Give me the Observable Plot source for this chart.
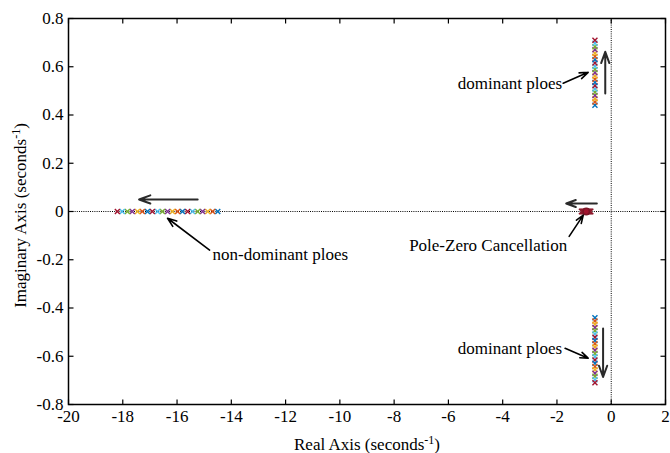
<!DOCTYPE html>
<html>
<head>
<meta charset="utf-8">
<script src="https://cdn.jsdelivr.net/npm/d3@7"></script>
<script src="https://cdn.jsdelivr.net/npm/@observablehq/plot@0.6"></script>
<style>
  body { margin: 0; background: #fff; }
</style>
</head>
<body>
<div id="chart"></div>
<script>
// Axis ticks
const xTicks = [-20, -18, -16, -14, -12, -10, -8, -6, -4, -2, 0, 2];
const yTicks = [-0.8, -0.6, -0.4, -0.2, 0, 0.2, 0.4, 0.6, 0.8];
const yTickLabels = ["-0.8", "-0.6", "-0.4", "-0.2", "0", "0.2", "0.4", "0.6", "0.8"];

// Marker colours, cycled per gain step
const palette = ["#0072BD", "#D95319", "#EDB120", "#7E2F8E", "#77AC30", "#4DBEEE", "#A2142F"];

// Dominant complex pole pair (upper branch; lower branch is its conjugate)
const dominantRe = [-0.60, -0.60, -0.60, -0.60, -0.60, -0.60, -0.60, -0.60, -0.60, -0.60, -0.60,
                    -0.60, -0.60, -0.60, -0.60, -0.60, -0.60, -0.60, -0.60, -0.60, -0.60];
const dominantIm = [0.440, 0.454, 0.467, 0.481, 0.494, 0.508, 0.521, 0.535, 0.548, 0.562, 0.575,
                    0.589, 0.602, 0.616, 0.629, 0.643, 0.656, 0.670, 0.683, 0.697, 0.710];

// Non-dominant real pole
const nonDominantRe = [-14.50, -14.69, -14.87, -15.06, -15.24, -15.43, -15.61, -15.80, -15.98, -16.17, -16.35,
                       -16.54, -16.72, -16.91, -17.09, -17.28, -17.46, -17.65, -17.83, -18.02, -18.20];

// Pole sitting on top of the zero
const cancelPoleRe = [-0.76, -0.79, -0.82, -0.85, -0.88, -0.91, -0.94, -0.97, -1.00, -1.03, -1.06, -1.09];
const cancelZeroRe = [-0.92];

// Direction-of-motion arrows
const moveArrows = [
  {x1: -0.22, y1: 0.489, x2: -0.22, y2: 0.662},
  {x1: -0.30, y1: -0.485, x2: -0.30, y2: -0.686},
  {x1: -15.24, y1: 0.05, x2: -17.40, y2: 0.05},
  {x1: -0.53, y1: 0.033, x2: -1.66, y2: 0.033}
];

// Callout labels and their pointers
const callouts = [
  {text: "dominant ploes", x: -1.81, y: 0.532, anchor: "end", ax1: -1.77, ay1: 0.532, ax2: -0.85, ay2: 0.577},
  {text: "dominant ploes", x: -1.81, y: -0.567, anchor: "end", ax1: -1.70, ay1: -0.567, ax2: -0.85, ay2: -0.608},
  {text: "non-dominant ploes", x: -14.69, y: -0.177, anchor: "start", ax1: -14.80, ay1: -0.160, ax2: -16.35, ay2: -0.028},
  {text: "Pole-Zero Cancellation", x: -1.62, y: -0.140, anchor: "end", ax1: -1.55, ay1: -0.103, ax2: -1.03, ay2: -0.015}
];

const xLabel = "Real Axis (seconds-1)";
const yLabel = "Imaginary Axis (seconds-1)";

// Locus points, one row per gain step
const upper = dominantIm.map((im, k) => ({re: dominantRe[k], im, k}));
const lower = dominantIm.map((im, k) => ({re: dominantRe[k], im: -im, k}));
const real = nonDominantRe.map((re, k) => ({re, im: 0, k}));
const locus = [...upper, ...lower, ...real];

// Inward tick symbols
const tickLen = 5;
const tickUp = {draw(c) { c.moveTo(0, 0); c.lineTo(0, -tickLen); }};
const tickDown = {draw(c) { c.moveTo(0, 0); c.lineTo(0, tickLen); }};
const tickRight = {draw(c) { c.moveTo(0, 0); c.lineTo(tickLen, 0); }};
const tickLeft = {draw(c) { c.moveTo(0, 0); c.lineTo(-tickLen, 0); }};

const font = '"Liberation Serif", "Times New Roman", serif';
const fs = 17;

const chart = Plot.plot({
  width: 670,
  height: 453,
  marginLeft: 68,
  marginRight: 5,
  marginTop: 18,
  marginBottom: 49,
  style: {fontFamily: font, fontSize: fs + "px", background: "white", color: "black"},
  x: {domain: [-20, 2], axis: null},
  y: {domain: [-0.8, 0.8], axis: null},
  color: {type: "identity"},
  marks: [
    Plot.ruleY([0], {stroke: "black", strokeWidth: 1, strokeDasharray: "1,1.2"}),
    Plot.ruleX([0], {stroke: "black", strokeWidth: 1, strokeDasharray: "1,1.2"}),

    Plot.dot(locus, {x: "re", y: "im", symbol: "times", r: 2.4, strokeWidth: 1.4,
                     stroke: d => palette[d.k % palette.length]}),
    Plot.dot(cancelPoleRe, {x: d => d, y: 0, symbol: "times", r: 2.6, strokeWidth: 1.4, stroke: "#8E1B2E"}),
    Plot.dot(cancelZeroRe, {x: d => d, y: 0, r: 3.2, stroke: "#7A1526", strokeWidth: 1.5, fill: "#A2142F"}),

    Plot.arrow(moveArrows, {x1: "x1", y1: "y1", x2: "x2", y2: "y2",
                            stroke: "#2a2a2a", strokeWidth: 2, headLength: 9, headAngle: 40}),
    Plot.arrow(callouts, {x1: "ax1", y1: "ay1", x2: "ax2", y2: "ay2",
                          stroke: "black", strokeWidth: 1.6, headLength: 9, headAngle: 40}),
    Plot.text(callouts, {filter: d => d.anchor === "end", x: "x", y: "y", text: "text",
                         textAnchor: "end", fill: "black", fontSize: fs}),
    Plot.text(callouts, {filter: d => d.anchor === "start", x: "x", y: "y", text: "text",
                         textAnchor: "start", fill: "black", fontSize: fs}),

    // tick labels
    Plot.axisX({ticks: xTicks, tickSize: 0, tickPadding: 5, tickFormat: d => String(d), label: null, fontSize: fs}),
    Plot.axisY({ticks: yTicks, tickSize: 0, tickPadding: 5,
                tickFormat: d => yTickLabels[yTicks.indexOf(d)], label: null, fontSize: fs}),

    // inward tick marks on all four sides
    Plot.dot(xTicks, {x: d => d, y: -0.8, symbol: tickUp, stroke: "black", fill: "none", strokeWidth: 1.2}),
    Plot.dot(xTicks, {x: d => d, y: 0.8, symbol: tickDown, stroke: "black", fill: "none", strokeWidth: 1.2}),
    Plot.dot(yTicks, {x: -20, y: d => d, symbol: tickRight, stroke: "black", fill: "none", strokeWidth: 1.2}),
    Plot.dot(yTicks, {x: 2, y: d => d, symbol: tickLeft, stroke: "black", fill: "none", strokeWidth: 1.2}),

    Plot.frame({stroke: "black", strokeWidth: 1.5}),

    // axis titles
    Plot.text([xLabel], {frameAnchor: "bottom", textAnchor: "middle", lineAnchor: "middle",
                         dy: 40, fontSize: fs, fill: "black"}),
    Plot.text([yLabel], {frameAnchor: "left", textAnchor: "middle", lineAnchor: "middle",
                         dx: -48, dy: 4, rotate: -90, fontSize: fs, fill: "black"})
  ]
});

// superscript the "-1" exponent in the axis titles
chart.querySelectorAll("text").forEach(t => {
  const s = t.textContent;
  if (s === xLabel || s === yLabel) {
    const base = s.replace("-1)", "");
    t.textContent = "";
    const ns = "http://www.w3.org/2000/svg";
    const a = document.createElementNS(ns, "tspan");
    a.textContent = base;
    const b = document.createElementNS(ns, "tspan");
    b.textContent = "-1";
    b.setAttribute("dy", "-6");
    b.setAttribute("font-size", "12");
    const c = document.createElementNS(ns, "tspan");
    c.textContent = ")";
    c.setAttribute("dy", "6");
    t.append(a, b, c);
  }
});

document.getElementById("chart").append(chart);
</script>
</body>
</html>
